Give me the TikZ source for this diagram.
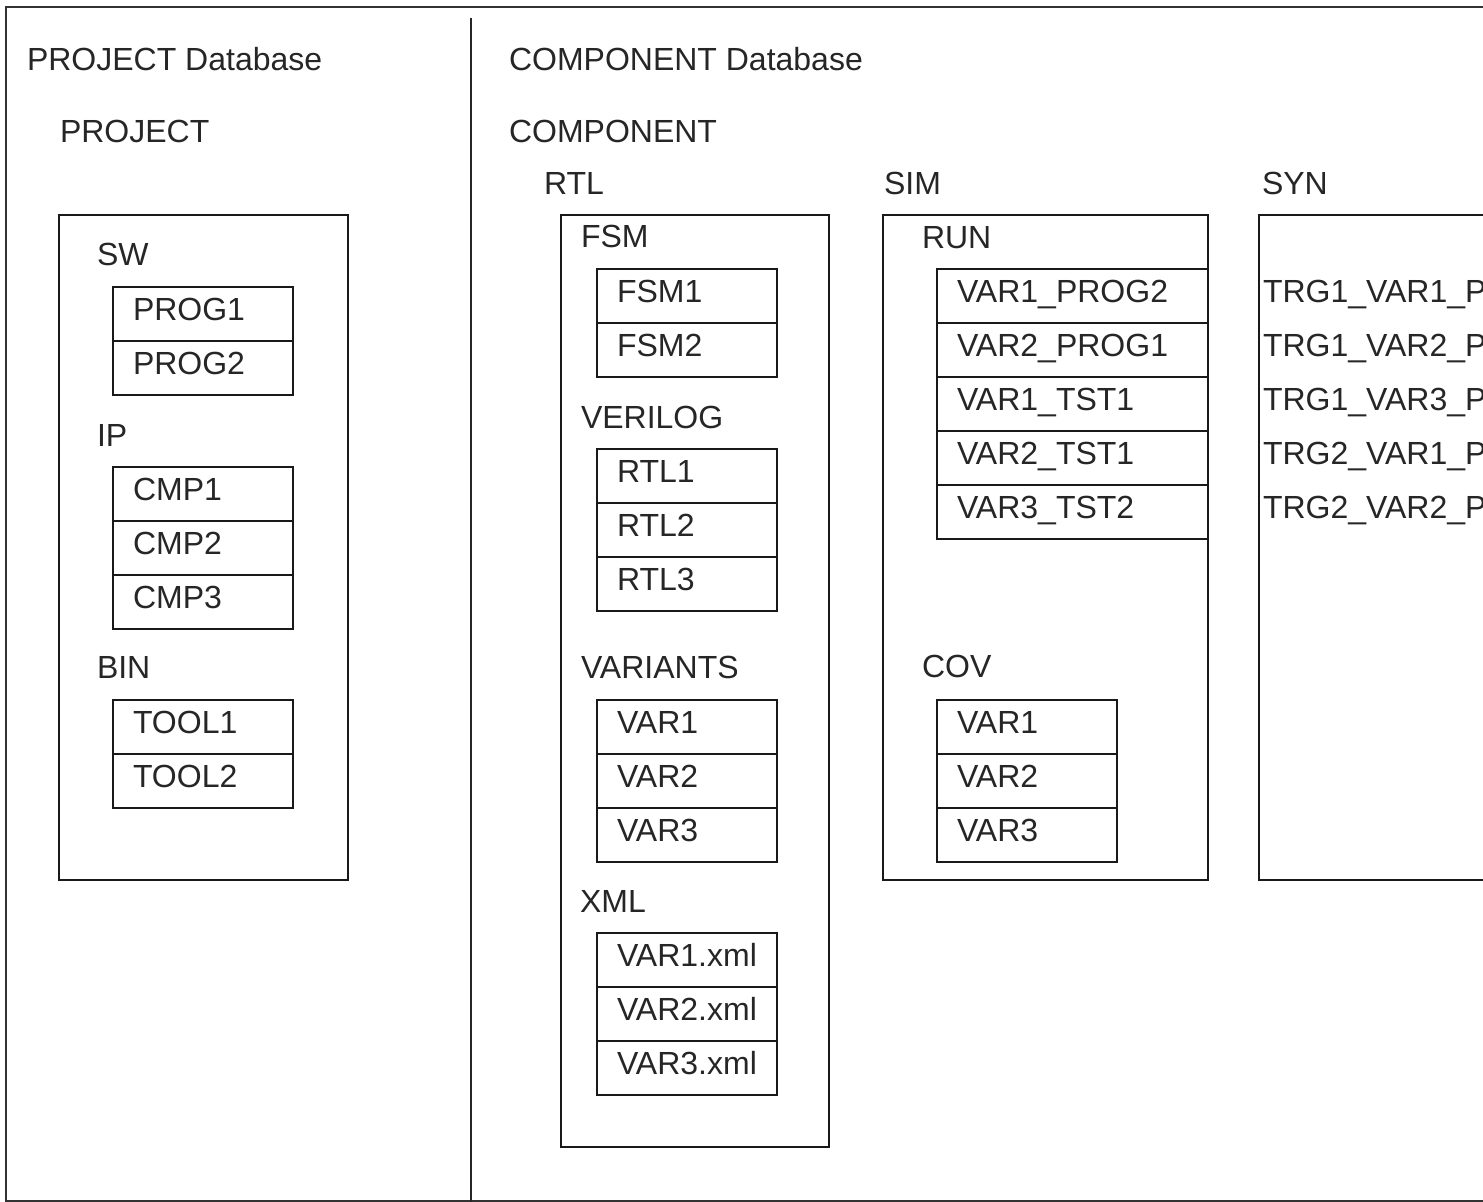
\documentclass[tikz,border=0pt]{standalone}
\usepackage{fontspec}
\setmainfont{Liberation Sans}
\tikzset{
  frameln/.style={line width=1pt, draw=black!85},
  boxst/.style={draw=black!90, line width=1pt, inner sep=0pt, outer sep=0pt, anchor=north west},
  lbl/.style={anchor=base west, inner sep=0pt, outer sep=0pt, font=\fontsize{16pt}{19pt}\selectfont, text=black!85},
}
% #1 name, #2 left x, #3 top y, #4 width (px), #5 text
\newcommand\mycell[5]{%
  \node[boxst, minimum width=#4*0.5pt, minimum height=27pt] (#1) at (#2,#3) {};
  \node[lbl] (#1t) at (#2+20,#3+33) {#5};
}
\begin{document}
\begin{tikzpicture}[x=0.5pt,y=-0.5pt]
\useasboundingbox (0,0) rectangle (1483,1201);
\fill[white] (0,0) rectangle (1483,1201);
% outer frame and divider
\node[boxst, draw=black!80, minimum width=800pt, minimum height=597pt] (frame) at (6,7) {};
\coordinate (dtop) at (471,18);
\coordinate (dbot) at (471,1202);
\draw[frameln] (dtop) -- (dbot);

% ---------- PROJECT side ----------
\node[lbl] (pdb) at (27,70) {PROJECT Database};
\node[lbl] (proj) at (60,142) {PROJECT};
\node[boxst, minimum width=144.5pt, minimum height=332.5pt] (prj) at (59,215) {};
\node[lbl] (sw) at (97,265) {SW};
\mycell{prog1}{113}{287}{180}{PROG1}
\mycell{prog2}{113}{341}{180}{PROG2}
\node[lbl] (ip) at (97,446) {IP};
\mycell{cmp1}{113}{467}{180}{CMP1}
\mycell{cmp2}{113}{521}{180}{CMP2}
\mycell{cmp3}{113}{575}{180}{CMP3}
\node[lbl] (bin) at (97,678) {BIN};
\mycell{tool1}{113}{700}{180}{TOOL1}
\mycell{tool2}{113}{754}{180}{TOOL2}

% ---------- COMPONENT side ----------
\node[lbl] (cdb) at (509,70) {COMPONENT Database};
\node[lbl] (comp) at (509,142) {COMPONENT};
\node[lbl] (rtl) at (544,194) {RTL};
\node[lbl] (sim) at (884,194) {SIM};
\node[lbl] (syn) at (1262,194) {SYN};

% RTL
\node[boxst, minimum width=134pt, minimum height=466pt] (rtlbox) at (561,215) {};
\node[lbl] (fsm) at (581,247) {FSM};
\mycell{fsm1}{597}{269}{180}{FSM1}
\mycell{fsm2}{597}{323}{180}{FSM2}
\node[lbl] (verilog) at (581,428) {VERILOG};
\mycell{rtl1}{597}{449}{180}{RTL1}
\mycell{rtl2}{597}{503}{180}{RTL2}
\mycell{rtl3}{597}{557}{180}{RTL3}
\node[lbl] (variants) at (581,678) {VARIANTS};
\mycell{var1}{597}{700}{180}{VAR1}
\mycell{var2}{597}{754}{180}{VAR2}
\mycell{var3}{597}{808}{180}{VAR3}
\node[lbl] (xml) at (580,912) {XML};
\mycell{xml1}{597}{933}{180}{VAR1.xml}
\mycell{xml2}{597}{987}{180}{VAR2.xml}
\mycell{xml3}{597}{1041}{180}{VAR3.xml}

% SIM
\node[boxst, minimum width=162.5pt, minimum height=332.5pt] (simbox) at (883,215) {};
\node[lbl] (run) at (922,248) {RUN};
\mycell{run1}{937}{269}{271}{VAR1\_PROG2}
\mycell{run2}{937}{323}{271}{VAR2\_PROG1}
\mycell{run3}{937}{377}{271}{VAR1\_TST1}
\mycell{run4}{937}{431}{271}{VAR2\_TST1}
\mycell{run5}{937}{485}{271}{VAR3\_TST2}
\node[lbl] (cov) at (922,677) {COV};
\mycell{cov1}{937}{700}{180}{VAR1}
\mycell{cov2}{937}{754}{180}{VAR2}
\mycell{cov3}{937}{808}{180}{VAR3}

% SYN
\node[boxst, minimum width=162.5pt, minimum height=332.5pt] (synbox) at (1259,215) {};
\node[lbl] (trg1) at (1263,302) {TRG1\_VAR1\_PROG1};
\node[lbl] (trg2) at (1263,356) {TRG1\_VAR2\_PROG1};
\node[lbl] (trg3) at (1263,410) {TRG1\_VAR3\_PROG1};
\node[lbl] (trg4) at (1263,464) {TRG2\_VAR1\_PROG2};
\node[lbl] (trg5) at (1263,518) {TRG2\_VAR2\_PROG2};
\end{tikzpicture}
\end{document}
